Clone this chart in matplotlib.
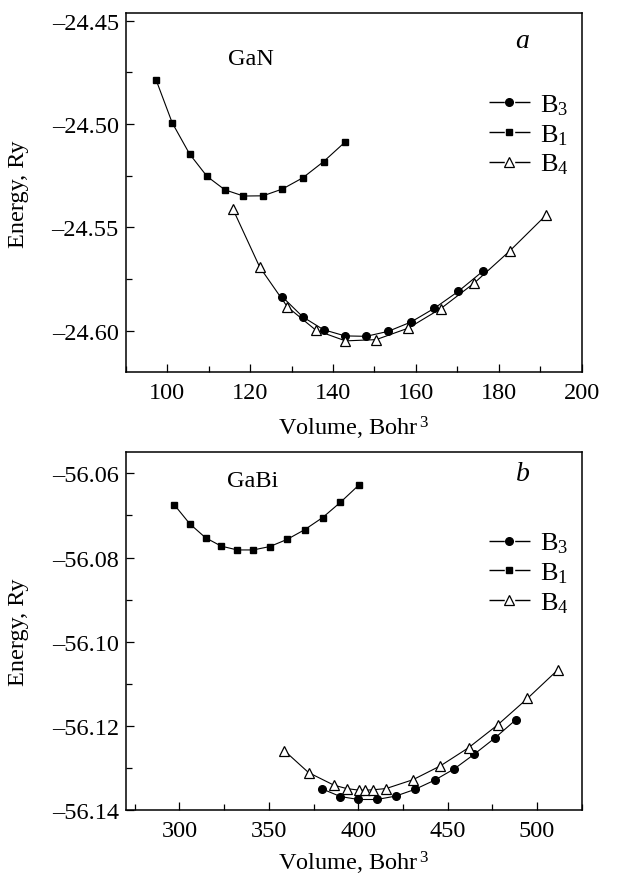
import numpy as np
import matplotlib
matplotlib.use("Agg")
import matplotlib.pyplot as plt
from matplotlib.lines import Line2D
from matplotlib.ticker import MultipleLocator, FuncFormatter

plt.rcParams['font.family'] = ['Liberation Serif', 'DejaVu Serif']
plt.rcParams['mathtext.fontset'] = 'custom'
plt.rcParams['mathtext.rm'] = 'Liberation Serif'
plt.rcParams['mathtext.it'] = 'Liberation Serif:italic'
plt.rcParams['font.size'] = 17.5

# panel a: GaN
gan_b1_v = [97.3, 101.2, 105.4, 109.6, 113.9, 118.4, 123.1, 127.8, 132.7, 137.7, 142.8]
gan_b1_e = [-24.4786, -24.4994, -24.5145, -24.5253, -24.5318, -24.5348, -24.5347,
            -24.5314, -24.5260, -24.5182, -24.5089]
gan_b4_v = [115.8, 122.3, 129.0, 135.9, 143.0, 150.4, 158.2, 166.0, 174.1, 182.6, 191.3]
gan_b4_e = [-24.5409, -24.5691, -24.5884, -24.5997, -24.6048, -24.6042, -24.5986,
            -24.5892, -24.5768, -24.5614, -24.5442]
gan_b3_v = [127.7, 132.7, 137.7, 142.9, 148.0, 153.3, 158.8, 164.4, 170.2, 176.1]
gan_b3_e = [-24.5834, -24.5932, -24.5994, -24.6024, -24.6026, -24.6002, -24.5957,
            -24.5891, -24.5809, -24.5712]

# panel b: GaBi
gabi_b1_v = [297.2, 305.8, 314.6, 323.4, 332.4, 341.3, 350.5, 360.2, 370.0, 380.1, 390.0, 400.3]
gabi_b1_e = [-56.0675, -56.0720, -56.0753, -56.0773, -56.0782, -56.0782, -56.0774,
             -56.0757, -56.0734, -56.0705, -56.0669, -56.0628]
gabi_b4_v = [358.7, 372.2, 386.4, 393.5, 400.7, 403.8, 408.1, 415.6, 430.6, 446.0,
             461.7, 477.9, 494.6, 511.6]
gabi_b4_e = [-56.1259, -56.1311, -56.1341, -56.1349, -56.1353, -56.1353, -56.1352,
             -56.1349, -56.1328, -56.1295, -56.1252, -56.1198, -56.1135, -56.1067]
gabi_b3_v = [379.9, 390.0, 400.1, 410.4, 420.9, 431.7, 442.8, 453.8, 465.0, 476.4, 488.0]
gabi_b3_e = [-56.1350, -56.1368, -56.1375, -56.1375, -56.1367, -56.1351, -56.1329,
             -56.1302, -56.1267, -56.1229, -56.1186]

labels = ['B$_3$', 'B$_1$', 'B$_4$']

fig = plt.figure(figsize=(6.32, 8.78), dpi=100)
ax_a = fig.add_axes([0.199, 0.5748, 0.7215, 0.4089])
ax_b = fig.add_axes([0.199, 0.0763, 0.7215, 0.4074])

dash_fmt = FuncFormatter(lambda v, p: ('%.2f' % v).replace('-', '\u2013'))


def draw_panel(ax, b3, b1, b4):
    lw = 0.8
    styles = [dict(marker='o', ms=5.5, mfc='black'),
              dict(marker='s', ms=5, mfc='black'),
              dict(marker='^', ms=6.5, mfc='white', mew=0.9)]
    handles = []
    for (v, e), st in zip([b3, b1, b4], styles):
        ax.plot(v, e, color='black', lw=lw, **st)
        seg = Line2D([], [], color='black', lw=1.0, dashes=[11, 7.5])
        mk = Line2D([], [], color='black', lw=0, **st)
        handles.append((seg, mk))
    ax.legend(handles, labels, loc='upper left', bbox_to_anchor=(0.773, 0.81),
              frameon=False, handlelength=1.55, handletextpad=0.4,
              labelspacing=0.2, fontsize=19, borderaxespad=0)
    for sp in ax.spines.values():
        sp.set_linewidth(1.1)
    ax.tick_params(which='both', direction='in', top=False, right=False,
                   width=0.9)
    ax.tick_params(which='major', length=6)
    ax.tick_params(which='minor', length=4)
    ax.tick_params(axis='x', which='major', pad=7)
    ax.tick_params(axis='y', which='major', pad=5)
    ax.yaxis.set_major_formatter(dash_fmt)
    ax.set_ylabel('Energy, Ry')
    ax.set_xlabel('Volume, Bohr$\\,^3$')
    ax.yaxis.set_label_coords(-0.212, 0.5)
    ax.xaxis.set_label_coords(0.5, -0.116)


draw_panel(ax_a, (gan_b3_v, gan_b3_e), (gan_b1_v, gan_b1_e), (gan_b4_v, gan_b4_e))
ax_a.set_xlim(90, 200)
ax_a.set_ylim(-24.62, -24.4465)
ax_a.xaxis.set_major_locator(MultipleLocator(20))
ax_a.xaxis.set_minor_locator(MultipleLocator(10))
ax_a.yaxis.set_major_locator(MultipleLocator(0.05))
ax_a.yaxis.set_minor_locator(MultipleLocator(0.025))
ax_a.text(0.275, 0.875, 'GaN', transform=ax_a.transAxes, ha='center', va='center')
ax_a.text(0.87, 0.925, 'a', transform=ax_a.transAxes, ha='center', va='center',
          style='italic', fontsize=20)

draw_panel(ax_b, (gabi_b3_v, gabi_b3_e), (gabi_b1_v, gabi_b1_e), (gabi_b4_v, gabi_b4_e))
ax_b.set_xlim(270, 525)
ax_b.set_ylim(-56.14, -56.055)
ax_b.xaxis.set_major_locator(MultipleLocator(50))
ax_b.xaxis.set_minor_locator(MultipleLocator(25))
ax_b.yaxis.set_major_locator(MultipleLocator(0.02))
ax_b.yaxis.set_minor_locator(MultipleLocator(0.01))
ax_b.xaxis.set_label_coords(0.5, -0.108)
ax_b.text(0.278, 0.92, 'GaBi', transform=ax_b.transAxes, ha='center', va='center')
ax_b.text(0.87, 0.94, 'b', transform=ax_b.transAxes, ha='center', va='center',
          style='italic', fontsize=20)

fig.savefig('out.png', dpi=100)
